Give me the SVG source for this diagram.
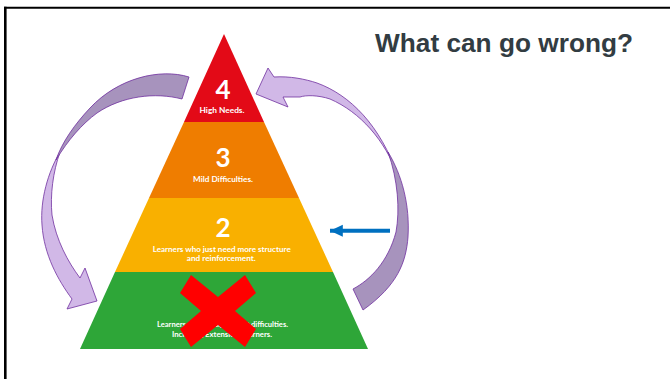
<svg xmlns="http://www.w3.org/2000/svg" width="670" height="379" viewBox="0 0 670 379">
<style>
.num{font-family:Lato,"Open Sans",sans-serif;font-weight:bold;fill:#fff;text-anchor:middle}
.lbl{font-family:Lato,"Open Sans",sans-serif;font-weight:bold;fill:#fff;text-anchor:middle;font-size:7.5px}
.light{fill:#D1B8E7;stroke:#7030A0;stroke-width:0.8}
.dark{fill:#A793BD;stroke:#7030A0;stroke-width:0.8}
</style>
<defs>
<marker id="blueHead" markerWidth="4" markerHeight="4" refX="3.2" refY="2" orient="auto" markerUnits="strokeWidth">
<path d="M0,0.5 L3.2,2 L0,3.5 Z" fill="#0070C0"/>
</marker>
</defs>
<rect width="670" height="379" fill="#fff"/>
<g id="frame" stroke="#000">
<line x1="4" y1="7.7" x2="670" y2="7.7" stroke-width="2"/>
<line x1="5.3" y1="6.7" x2="5.3" y2="379" stroke-width="2.6"/>
</g>
<g id="title">
<text x="375" y="52" font-family="Liberation Sans, Arial, sans-serif" font-weight="bold" font-size="26" fill="#323C42" textLength="258" lengthAdjust="spacingAndGlyphs">What can go wrong?</text>
</g>
<g id="level4">
<polygon points="224,34 264,122 184,122" fill="#E30A17"/>
<text class="num" x="223" y="99" font-size="26">4</text>
<text class="lbl" x="222" y="113.3" textLength="45" lengthAdjust="spacingAndGlyphs">High Needs.</text>
</g>
<g id="level3">
<polygon points="184,122 264,122 299,198 149,198" fill="#EF7D00"/>
<text class="num" x="223" y="167.3" font-size="26">3</text>
<text class="lbl" x="223" y="182.3" textLength="60" lengthAdjust="spacingAndGlyphs">Mild Difficulties.</text>
</g>
<g id="level2">
<polygon points="149,198 299,198 333,272 115,272" fill="#F9B000"/>
<text class="num" x="223" y="236.6" font-size="26">2</text>
<text class="lbl" x="221.7" y="251.7" textLength="138" lengthAdjust="spacingAndGlyphs">Learners who just need more structure</text>
<text class="lbl" x="221.3" y="260.7" textLength="69" lengthAdjust="spacingAndGlyphs">and reinforcement.</text>
</g>
<g id="level1">
<polygon points="115,272 333,272 368,349 80,349" fill="#2EA638"/>
<text class="lbl" x="222.5" y="327.3" textLength="131" lengthAdjust="spacingAndGlyphs">Learners with no significant difficulties.</text>
<text class="lbl" x="222" y="337.3" textLength="100" lengthAdjust="spacingAndGlyphs">Including Extension Learners.</text>
</g>
<g id="cross">
<polygon points="191,275 218,297 245,275 256,293 235,311 256,329 245,347 218,325 191,347 180,329 201,311 180,293" fill="#FF0000"/>
</g>
<g id="connectors">
<g id="left-curved-arrow">
<path class="light" d="M60,152 C48,172 40,200 42,225 C44,255 58,280 72,299 L67,309 L97,301 L85,268 L80,278 C68,262 56,240 52,215 C50,195 53,172 60,152 Z"/>
<path class="dark" d="M189,77 C160,68 118,78 90,108 C75,124 62,142 56,160 C68,140 82,124 97,113 C122,96 155,92 182,99 Z"/>
</g>
<g id="right-curved-arrow">
<path class="light" d="M398,176 C385,140 360,112 330,99 C318,95 306,95 300,97 L283,97 L288,107 L256,94 L268,68 L274,77 C290,76 305,79 317,83 C350,95 380,125 398,176 Z"/>
<path class="dark" d="M388,152 C402,175 410,205 408,237 C406,262 398,285 363,310 L353,289 C370,280 388,262 396,232 C400,210 398,180 388,152 Z"/>
</g>
<line id="blue-arrow" x1="390" y1="230.7" x2="330" y2="230.7" stroke="#0070C0" stroke-width="4" marker-end="url(#blueHead)"/>
</g>
</svg>
